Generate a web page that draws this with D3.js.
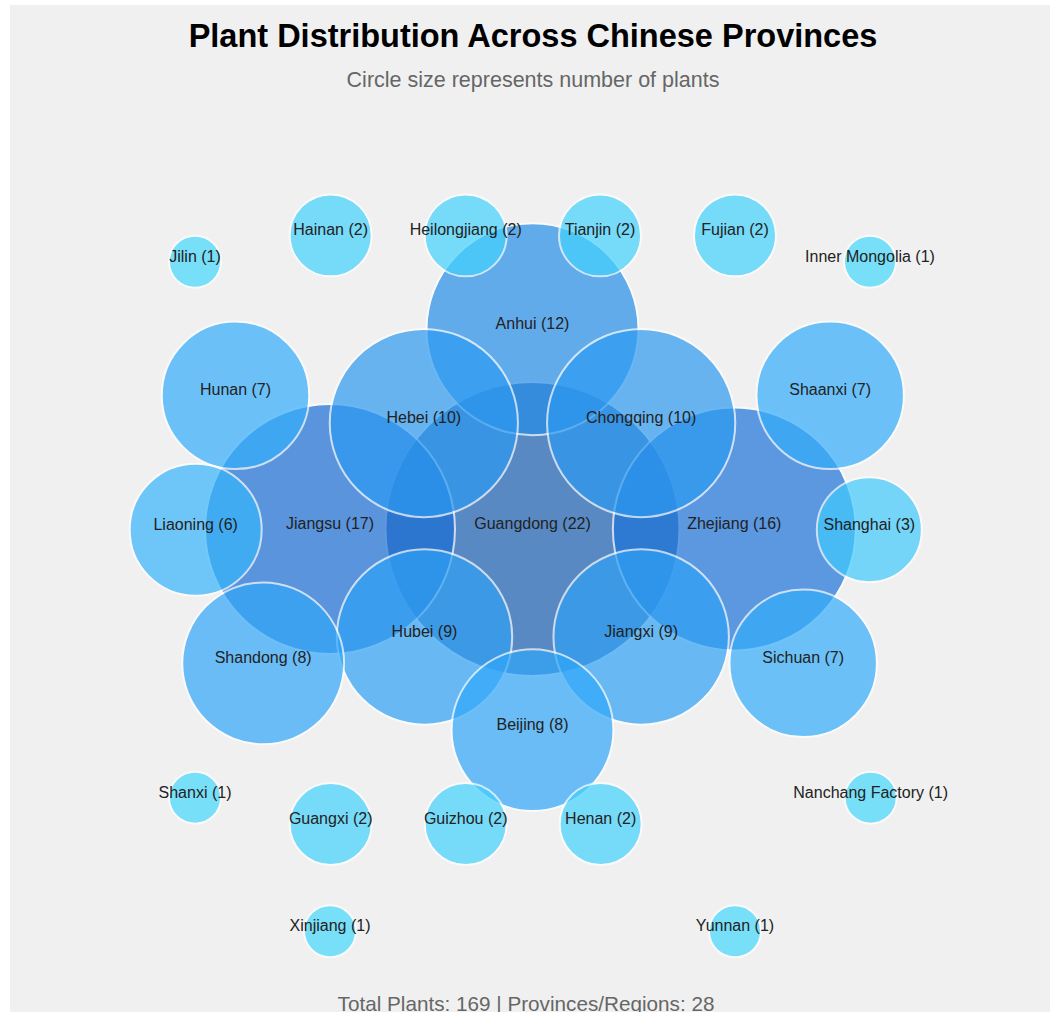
<!DOCTYPE html>
<html>
<head>
<meta charset="utf-8">
<script src="https://cdn.jsdelivr.net/npm/d3@7"></script>
<style>
  html, body { margin: 0; padding: 0; background: #ffffff; overflow: hidden; }
  svg { display: block; }
</style>
</head>
<body>
<svg id="chart" width="1050" height="1012"></svg>
<script>
// ---- Data (drawn largest first so smaller bubbles sit on top) ----
const provinces = [
  "Guangdong", "Jiangsu", "Zhejiang", "Anhui", "Hebei", "Chongqing",
  "Hubei", "Jiangxi", "Shandong", "Beijing", "Hunan", "Shaanxi",
  "Sichuan", "Liaoning", "Shanghai", "Hainan", "Heilongjiang", "Tianjin",
  "Fujian", "Guangxi", "Guizhou", "Henan", "Jilin", "Inner Mongolia",
  "Shanxi", "Nanchang Factory", "Xinjiang", "Yunnan"
];
const plantCounts = [
  22, 17, 16, 12, 10, 10,
  9, 9, 8, 8, 7, 7,
  7, 6, 3, 2, 2, 2,
  2, 2, 2, 2, 1, 1,
  1, 1, 1, 1
];
// layout coordinates of each bubble (abstract layout units, centre = 0,0)
const layoutX = [
  0, -3.0, 2.99, 0, -1.61, 1.61,
  -1.6, 1.61, -3.99, 0, -4.4, 4.41,
  4.01, -4.99, 4.99, -2.99, -0.99, 1.0,
  3.0, -2.99, -0.99, 1.01, -5.0, 5.0,
  -5.0, 5.01, -3.0, 3.0
];
const layoutY = [
  0, 0, 0, -2.96, -1.57, -1.57,
  1.6, 1.6, 1.99, 2.98, -1.98, -1.98,
  1.99, 0.01, 0.01, -4.35, -4.35, -4.35,
  -4.35, 4.37, 4.37, 4.37, -3.96, -3.96,
  3.98, 3.98, 5.96, 5.96
];
const titleText = "Plant Distribution Across Chinese Provinces";
const subtitleText = "Circle size represents number of plants";
const footerText = "Total Plants: 169 | Provinces/Regions: 28";

const data = provinces.map((name, i) => ({
  name, value: plantCounts[i], lx: layoutX[i], ly: layoutY[i]
}));

// ---- Setup ----
const W = 1050, H = 1012;
const svg = d3.select("#chart");
const FONT = "'Liberation Sans', Arial, Helvetica, sans-serif";

// panel background
svg.append("rect")
  .attr("x", 10).attr("y", 5)
  .attr("width", W).attr("height", H)
  .attr("fill", "#f0f0f0");

const cx = 532.5, cy = 529, unit = 67.5;
const x = d3.scaleLinear().domain([-1, 1]).range([cx - unit, cx + unit]);
const y = d3.scaleLinear().domain([-1, 1]).range([cy - unit, cy + unit]);

const r = d3.scaleSqrt()
  .domain([1, 3, 6, 12, 17, 22])
  .range([26, 52.5, 66, 106, 125, 147]);

const color = d3.scaleLinear()
  .domain([1, 8, 17, 22])
  .range(["#46d8fe", "#31a7f9", "#1b6ed6", "#1a5eb1"])
  .interpolate(d3.interpolateRgb);

// ---- Bubbles ----
const gC = svg.append("g");
gC.selectAll("circle")
  .data(data)
  .join("circle")
  .attr("cx", d => x(d.lx))
  .attr("cy", d => y(d.ly))
  .attr("r", d => r(d.value))
  .attr("fill", d => color(d.value))
  .attr("stroke", "#ffffff")
  .attr("stroke-width", 2)
  .attr("opacity", 0.7);

// ---- Labels ----
const gL = svg.append("g");
gL.selectAll("text")
  .data(data)
  .join("text")
  .attr("x", d => x(d.lx))
  .attr("y", d => y(d.ly))
  .attr("text-anchor", "middle")
  .attr("font-family", FONT)
  .attr("font-size", 16)
  .attr("fill", "#222")
  .text(d => `${d.name} (${d.value})`);

// ---- Titles ----
svg.append("text")
  .attr("x", 533).attr("y", 47)
  .attr("text-anchor", "middle")
  .attr("font-family", FONT)
  .attr("font-size", 32.5)
  .attr("font-weight", "bold")
  .attr("fill", "#000")
  .text(titleText);

svg.append("text")
  .attr("x", 533).attr("y", 87)
  .attr("text-anchor", "middle")
  .attr("font-family", FONT)
  .attr("font-size", 21.5)
  .attr("fill", "#666")
  .text(subtitleText);

svg.append("text")
  .attr("x", 526).attr("y", 1011)
  .attr("text-anchor", "middle")
  .attr("font-family", FONT)
  .attr("font-size", 20.7)
  .attr("fill", "#666")
  .text(footerText);
</script>
</body>
</html>
